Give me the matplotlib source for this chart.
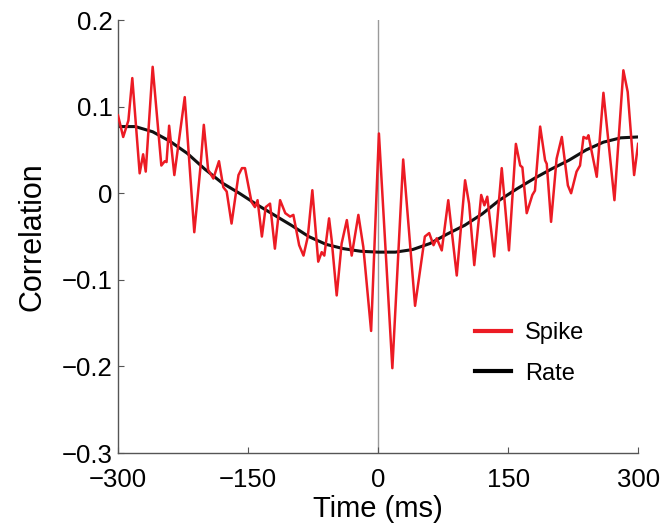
import matplotlib
matplotlib.use("Agg")
import matplotlib.pyplot as plt
from matplotlib.lines import Line2D

plt.rcParams["font.family"] = ["Liberation Sans", "DejaVu Sans"]

# spike-triggered correlation
spike_t = [-300, -294, -288, -283.5, -275, -271, -268, -260, -250, -246, -244,
           -241, -235, -223, -212, -205, -201, -196, -190, -183.5, -178.5,
           -174.6, -169, -161, -157, -153.5, -146, -142, -139, -134, -129.6,
           -124.6, -119, -113, -107, -101.5, -97.7, -91, -86, -81, -75.8, -69,
           -65, -62, -56.5, -53.5, -47.7, -42, -36, -30.4, -22.7, -17, -8, 1,
           16.5, 29, 42.7, 54, 59, 64, 67.7, 73.5, 81, 90.8, 100.4, 105, 111,
           119, 122.7, 126, 134, 142.7, 151, 159, 164, 166.5, 171.5, 178, 181,
           187, 192.7, 194.6, 199.6, 206, 212, 219, 222.7, 229, 233, 237,
           240.8, 242.7, 252.3, 260, 272.7, 283, 288, 295.4, 300]
spike_v = [0.090, 0.065, 0.084, 0.133, 0.023, 0.045, 0.025, 0.146, 0.032,
           0.037, 0.036, 0.078, 0.021, 0.111, -0.045, 0.029, 0.079, 0.027,
           0.017, 0.037, 0.007, 0.002, -0.035, 0.021, 0.029, 0.029, -0.010,
           -0.016, -0.008, -0.050, -0.016, -0.012, -0.064, -0.008, -0.023,
           -0.027, -0.025, -0.060, -0.072, -0.050, 0.0035, -0.079, -0.068,
           -0.072, -0.029, -0.054, -0.118, -0.058, -0.031, -0.072, -0.025,
           -0.062, -0.159, 0.069, -0.202, 0.039, -0.130, -0.050, -0.046,
           -0.060, -0.052, -0.066, -0.008, -0.095, 0.015, -0.012, -0.083,
           -0.002, -0.014, -0.004, -0.073, 0.029, -0.066, 0.057, 0.032, 0.030,
           -0.023, -0.002, 0.003, 0.077, 0.038, 0.034, -0.033, 0.040, 0.065,
           0.009, 0.000, 0.025, 0.032, 0.065, 0.063, 0.067, 0.019, 0.116,
           -0.008, 0.142, 0.117, 0.021, 0.057]

# rate correlation
rate_t = [-300, -280, -260, -240, -220, -200, -180, -160, -140, -120, -100,
          -80, -60, -40, -20, 0, 20, 40, 60, 80, 100, 120, 140, 160, 180, 200,
          220, 240, 260, 280, 300]
rate_v = [0.077, 0.077, 0.071, 0.060, 0.046, 0.028, 0.012, 0.000, -0.013,
          -0.025, -0.037, -0.050, -0.059, -0.064, -0.067, -0.068, -0.068,
          -0.065, -0.058, -0.047, -0.037, -0.024, -0.008, 0.005, 0.017, 0.028,
          0.038, 0.050, 0.059, 0.064, 0.065]

x_ticks = [-300, -150, 0, 150, 300]
y_ticks = [-0.3, -0.2, -0.1, 0, 0.1, 0.2]
y_ticklabels = ["\u22120.3", "\u22120.2", "\u22120.1", "0", "0.1", "0.2"]
x_ticklabels = ["\u2212300", "\u2212150", "0", "150", "300"]

red = "#ec1b24"
fig = plt.figure(figsize=(6.64, 5.28), dpi=100)
ax = fig.add_axes([0.1777, 0.142, 0.7833, 0.820])

ax.axvline(0, color="#9a9a9a", lw=1.0, zorder=1)
ax.plot(rate_t, rate_v, color="#111111", lw=2.2, zorder=2)
ax.plot(spike_t, spike_v, color=red, lw=1.8, zorder=3)

ax.set_xlim(-300, 300)
ax.set_ylim(-0.3, 0.2)
ax.set_xticks(x_ticks)
ax.set_xticklabels(x_ticklabels)
ax.set_yticks(y_ticks)
ax.set_yticklabels(y_ticklabels)
ax.tick_params(direction="in", length=4, width=0.8, color="#555555",
               labelsize=18.5)
ax.tick_params(axis="y", pad=4)
ax.tick_params(axis="x", pad=11)
for s in ("top", "right"):
    ax.spines[s].set_visible(False)
for s in ("left", "bottom"):
    ax.spines[s].set_color("#555555")
    ax.spines[s].set_linewidth(1.0)

ax.set_xlabel("Time (ms)", fontsize=21, labelpad=2)
ax.set_ylabel("Correlation", fontsize=22, labelpad=10)

handles = [Line2D([], [], color=red, lw=3), Line2D([], [], color="black", lw=3)]
fig.legend(handles, ["Spike", "Rate"], loc="center left",
           bbox_to_anchor=(0.716, 0.331), frameon=False, fontsize=17,
           handlelength=1.5, handletextpad=0.6, labelspacing=0.8,
           borderpad=0, borderaxespad=0)

fig.savefig("out.png", dpi=100)
